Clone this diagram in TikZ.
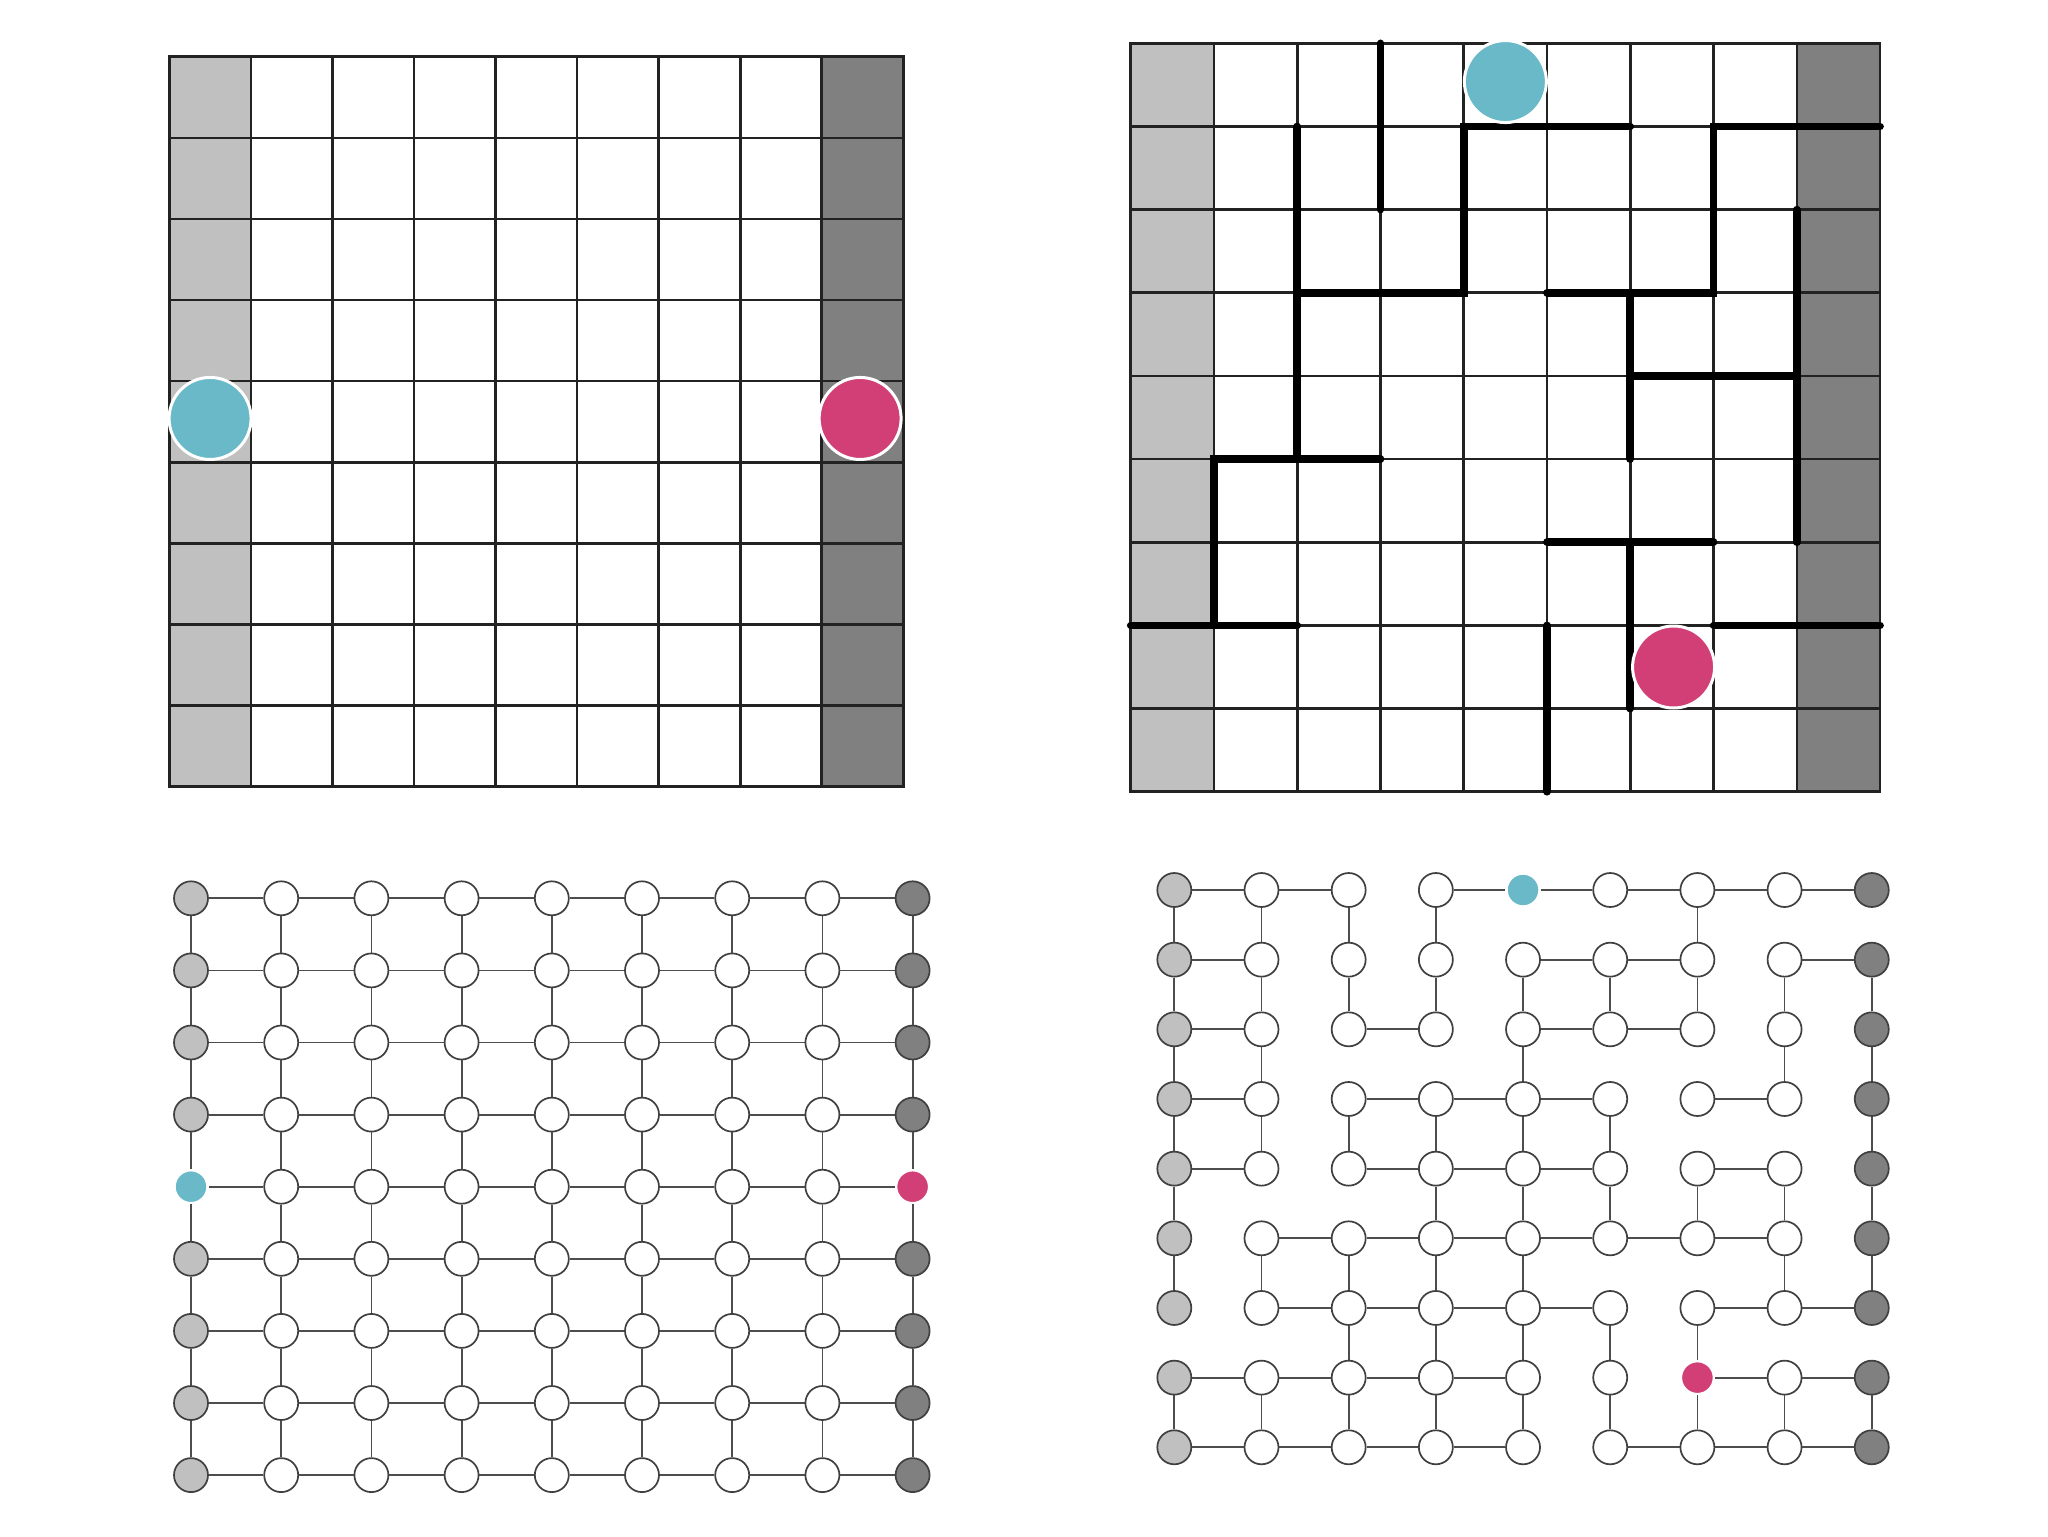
\documentclass[tikz,border=0pt]{standalone}
\usepackage{xcolor}
\definecolor{lgray}{HTML}{C0C0C0}
\definecolor{dgray}{HTML}{808080}
\definecolor{tcyan}{HTML}{6AB9C8}
\definecolor{tmag}{HTML}{D13F76}
\definecolor{gline}{HTML}{222222}
\definecolor{nline}{HTML}{404040}
\definecolor{eline}{HTML}{4D4D4D}
\newcommand{\brH}[2]{\foreach \c in {#2}{\pgfmathtruncatemacro{\cn}{\c+1}\draw[link] (br-\c-#1) -- (br-\cn-#1);}}
\newcommand{\brV}[2]{\foreach \c in {#2}{\pgfmathtruncatemacro{\rn}{#1+1}\draw[link] (br-\c-#1) -- (br-\c-\rn);}}
\begin{document}
\begin{tikzpicture}[x=0.5pt,y=-0.5pt,
  gridline/.style={draw=gline, line width=1.3pt, line cap=rect},
  wall/.style={draw=black, line width=3.8pt, line cap=round, line join=miter},
  bigdot/.style={circle, draw=white, line width=1.5pt, minimum size=41pt, inner sep=0pt},
  gnode/.style={circle, draw=nline, line width=0.85pt, minimum size=17pt, inner sep=0pt},
  wnode/.style={gnode, fill=white},
  lnode/.style={gnode, fill=lgray},
  dnode/.style={gnode, fill=dgray},
  cnode/.style={circle, draw=white, line width=1.2pt, fill=tcyan, minimum size=16.5pt, inner sep=0pt},
  mnode/.style={cnode, fill=tmag},
  link/.style={draw=eline, line width=0.9pt}
]
\fill[white] (0,0) rectangle (2048,1536);
\useasboundingbox (0,0) rectangle (2048,1536);

% ---------- top left: empty board ----------
\begin{scope}[shift={(84.65pt,-28.35pt)}, x=40.78pt, y=-40.555pt]
  \fill[lgray] (0,0) rectangle (1,9);
  \fill[dgray] (8,0) rectangle (9,9);
  \foreach \i in {0,...,9}{
    \draw[gridline] (\i,0) -- (\i,9);
    \draw[gridline] (0,\i) -- (9,\i);
  }
  \node[bigdot, fill=tcyan] (tl-start) at (0.5,4.46) {};
  \node[bigdot, fill=tmag] (tl-goal) at (8.47,4.46) {};
\end{scope}

% ---------- top right: board with walls ----------
\begin{scope}[shift={(565.35pt,-21.65pt)}, x=41.63pt, y=-41.58pt]
  \fill[lgray] (0,0) rectangle (1,9);
  \fill[dgray] (8,0) rectangle (9,9);
  \foreach \i in {0,...,9}{
    \draw[gridline] (\i,0) -- (\i,9);
    \draw[gridline] (0,\i) -- (9,\i);
  }
  \draw[wall] (3,0) -- (3,2);
  \draw[wall] (2,1) -- (2,5);
  \draw[wall] (3,5) -- (1,5) -- (1,7);
  \draw[wall] (0,7) -- (2,7);
  \draw[wall] (2,3) -- (4,3) -- (4,1) -- (6,1);
  \draw[wall] (9,1) -- (7,1) -- (7,3) -- (5,3);
  \draw[wall] (6,3) -- (6,5);
  \draw[wall] (6,4) -- (8,4);
  \draw[wall] (8,2) -- (8,6);
  \draw[wall] (5,6) -- (7,6);
  \draw[wall] (6,6) -- (6,8);
  \draw[wall] (5,7) -- (5,9);
  \draw[wall] (7,7) -- (9,7);
  \node[bigdot, fill=tcyan] (tr-start) at (4.5,0.46) {};
  \node[bigdot, fill=tmag] (tr-goal) at (6.52,7.5) {};
\end{scope}

% ---------- bottom left: full lattice graph ----------
\begin{scope}[shift={(95.5pt,-449.15pt)}, x=45.1pt, y=-36.05pt]
  \foreach \c in {0,...,8}{
    \foreach \r in {0,...,8}{
      \def\st{wnode}
      \ifnum\c=0 \def\st{lnode}\fi
      \ifnum\c=8 \def\st{dnode}\fi
      \ifnum\r=4 \ifnum\c=0 \def\st{cnode}\fi\ifnum\c=8 \def\st{mnode}\fi\fi
      \node[\st] (bl-\c-\r) at (\c,\r) {};
    }
  }
  \foreach \r in {0,...,8}{
    \foreach \c in {0,...,7}{
      \pgfmathtruncatemacro{\cn}{\c+1}
      \draw[link] (bl-\c-\r) -- (bl-\cn-\r);
    }
  }
  \foreach \c in {0,...,8}{
    \foreach \r in {0,...,7}{
      \pgfmathtruncatemacro{\rn}{\r+1}
      \draw[link] (bl-\c-\r) -- (bl-\c-\rn);
    }
  }
\end{scope}

% ---------- bottom right: maze graph ----------
\begin{scope}[shift={(587.15pt,-445pt)}, x=43.59pt, y=-34.83pt]
  \foreach \c in {0,...,8}{
    \foreach \r in {0,...,8}{
      \def\st{wnode}
      \ifnum\c=0 \def\st{lnode}\fi
      \ifnum\c=8 \def\st{dnode}\fi
      \ifnum\c=4 \ifnum\r=0 \def\st{cnode}\fi\fi
      \ifnum\c=6 \ifnum\r=7 \def\st{mnode}\fi\fi
      \node[\st] (br-\c-\r) at (\c,\r) {};
    }
  }
  \brH{0}{0,1,3,4,5,6,7}
  \brH{1}{0,4,5,7}
  \brH{2}{0,2,4,5}
  \brH{3}{0,2,3,4,6}
  \brH{4}{0,2,3,4,6}
  \brH{5}{1,2,3,4,5,6}
  \brH{6}{1,2,3,4,6,7}
  \brH{7}{0,1,2,3,6,7}
  \brH{8}{0,1,2,3,5,6,7}
  \brV{0}{0,1,2,3,6}
  \brV{1}{0,1,2,3,4,5,6,7,8}
  \brV{2}{0,1,4,7,8}
  \brV{3}{0,1,2,3,4,5,8}
  \brV{4}{0,3,4,5,6,7,8}
  \brV{5}{0,1,2,3,4,7,8}
  \brV{6}{2,3,4,5,6}
  \brV{7}{0,1,2,3,4,5,6,7,8}
\end{scope}
\end{tikzpicture}
\end{document}
